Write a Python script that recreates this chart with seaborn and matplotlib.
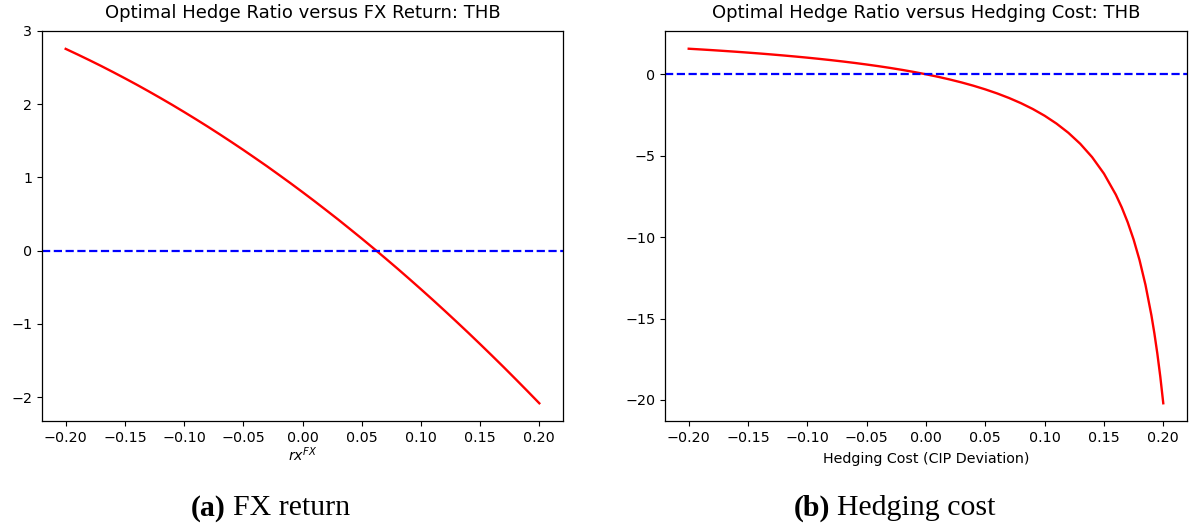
import matplotlib
matplotlib.use("Agg")
import matplotlib.pyplot as plt
from matplotlib.ticker import FuncFormatter
import seaborn as sns
import pandas as pd

# Panel (a): optimal hedge ratio as a function of the expected FX return
fx_return = [-0.20, -0.19, -0.18, -0.17, -0.16, -0.15, -0.14, -0.13, -0.12, -0.11,
             -0.10, -0.09, -0.08, -0.07, -0.06, -0.05, -0.04, -0.03, -0.02, -0.01,
             0.00, 0.01, 0.02, 0.03, 0.04, 0.05, 0.06, 0.07, 0.08, 0.09,
             0.10, 0.11, 0.12, 0.13, 0.14, 0.15, 0.16, 0.17, 0.18, 0.19, 0.20]
hedge_vs_fx = [2.756, 2.680, 2.602, 2.522, 2.439, 2.354, 2.267, 2.177, 2.085, 1.991,
               1.894, 1.795, 1.694, 1.590, 1.484, 1.376, 1.265, 1.153, 1.037, 0.920,
               0.800, 0.678, 0.553, 0.427, 0.297, 0.166, 0.032, -0.104, -0.242, -0.383,
               -0.526, -0.671, -0.819, -0.969, -1.121, -1.276, -1.433, -1.592, -1.754,
               -1.918, -2.084]

# Panel (b): optimal hedge ratio as a function of the hedging cost (CIP deviation)
hedge_cost = [-0.20, -0.19, -0.18, -0.17, -0.16, -0.15, -0.14, -0.13, -0.12, -0.11,
              -0.10, -0.09, -0.08, -0.07, -0.06, -0.05, -0.04, -0.03, -0.02, -0.01,
              0.00, 0.01, 0.02, 0.03, 0.04, 0.05, 0.06, 0.07, 0.08, 0.09,
              0.10, 0.11, 0.12, 0.13, 0.14, 0.15, 0.16, 0.165, 0.17, 0.175,
              0.18, 0.185, 0.19, 0.1925, 0.195, 0.1975, 0.20]
hedge_vs_cost = [1.570, 1.527, 1.482, 1.434, 1.384, 1.331, 1.276, 1.217, 1.155, 1.090,
                 1.021, 0.947, 0.869, 0.785, 0.696, 0.600, 0.498, 0.388, 0.269, 0.140,
                 0.000, -0.152, -0.318, -0.501, -0.703, -0.927, -1.176, -1.456, -1.772,
                 -2.132, -2.546, -3.028, -3.593, -4.268, -5.087, -6.102, -7.392, -8.177,
                 -9.086, -10.150, -11.413, -12.934, -14.803, -15.908, -17.156, -18.576,
                 -20.206]

titles = ["Optimal Hedge Ratio versus FX Return: THB",
          "Optimal Hedge Ratio versus Hedging Cost: THB"]
xlabels = [r"$rx^{FX}$", "Hedging Cost (CIP Deviation)"]
xlabel_pads = [0.5, 5]
caption_tags = ["(a)", "(b)"]
caption_texts = ["FX return", "Hedging cost"]

df_fx = pd.DataFrame({"x": fx_return, "h": hedge_vs_fx})
df_cost = pd.DataFrame({"x": hedge_cost, "h": hedge_vs_cost})

W, H = 1193, 527
fig = plt.figure(figsize=(W / 100, H / 100), dpi=100)
fig.patch.set_facecolor("white")

ax_a = fig.add_axes([42 / W, 1 - 421 / H, (563 - 42) / W, (421 - 31) / H])
ax_b = fig.add_axes([665 / W, 1 - 421 / H, (1187 - 665) / W, (421 - 31) / H])

minus_fmt = FuncFormatter(lambda v, _: f"{v:.2f}".replace("-", "\u2212"))

for ax, df, title, xlabel, lp in zip([ax_a, ax_b], [df_fx, df_cost], titles,
                                     xlabels, xlabel_pads):
    sns.lineplot(data=df, x="x", y="h", ax=ax, color="red", linewidth=1.7)
    ax.axhline(0, color="blue", linestyle="--", linewidth=1.6)
    ax.set_title(title, fontsize=13, pad=9.5)
    ax.set_xlabel(xlabel, fontsize=10.3, labelpad=lp)
    ax.set_ylabel("")
    ax.set_xticks([-0.20, -0.15, -0.10, -0.05, 0.00, 0.05, 0.10, 0.15, 0.20])
    ax.xaxis.set_major_formatter(minus_fmt)
    ax.tick_params(labelsize=10.3)
    ax.margins(x=0.05, y=0.05)
    for s in ax.spines.values():
        s.set_linewidth(0.9)

ax_a.set_yticks([-2, -1, 0, 1, 2, 3])
ax_b.set_yticks([-20, -15, -10, -5, 0])

# Sub-figure captions: bold tag followed by regular text
cap_y = 1 - 508 / H
for tag, text, x_tag, x_text in zip(caption_tags, caption_texts, [226, 830], [233, 837]):
    fig.text(x_tag / W, cap_y, tag, ha="right", va="center", fontsize=21.5,
             family="Liberation Serif", fontweight="bold")
    fig.text(x_text / W, cap_y, text, ha="left", va="center", fontsize=21.5,
             family="Liberation Serif")

fig.savefig("out.png", dpi=100, facecolor="white")
